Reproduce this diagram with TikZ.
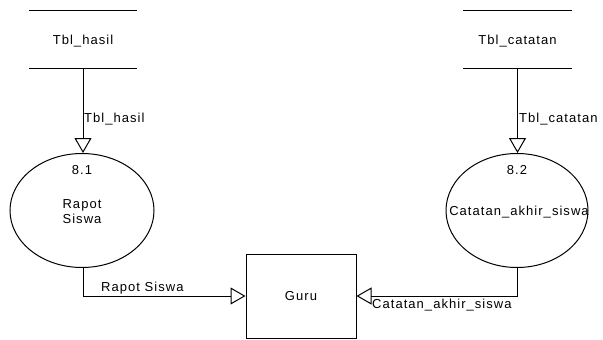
\documentclass[tikz,border=0pt]{standalone}
\usepackage{fontspec}
\setmainfont{Liberation Sans}[LetterSpace=8]
\usetikzlibrary{arrows.meta,shapes.geometric}
\begin{document}
\begin{tikzpicture}[x=1pt,y=-1pt,
  every node/.style={font=\fontsize{13}{15}\selectfont, inner sep=0pt},
  line/.style={line width=1pt},
  flow/.style={line width=1pt,-{Triangle[open,length=15pt,width=17pt]}},
  proc/.style={draw,line width=1pt,ellipse,minimum width=144pt,minimum height=114pt},
  store/.style={minimum width=108pt,minimum height=57pt},
  ent/.style={draw,line width=1pt,minimum width=110pt,minimum height=84pt}]
\useasboundingbox (0,0) rectangle (603,340);
% data stores
\node[store] (s1) at (83,39.5) {};
\node (s1t) at (83,41) {Tbl\_hasil};
\draw[line] (s1.north west) -- (s1.north east);
\draw[line] (s1.south west) -- (s1.south east);
\node[store] (s2) at (517.5,39.5) {};
\node (s2t) at (517.5,41) {Tbl\_catatan};
\draw[line] (s2.north west) -- (s2.north east);
\draw[line] (s2.south west) -- (s2.south east);
% processes
\node[proc] (p1) at (82,210.5) {};
\node (p1n) at (82,170) {8.1};
\node[align=center] (p1t) at (82,212) {Rapot\\Siswa};
\node[proc,minimum width=142pt] (p2) at (517,210.5) {};
\node (p2n) at (517,170) {8.2};
\node (p2t) at (519,212) {Catatan\_akhir\_siswa};
% entity
\node[ent] (g) at (301,296) {};
\node (gt) at (301,296) {Guru};
% flows
\draw[flow] (s1.south) -- (s1.south |- p1.north);
\draw[flow] (s2.south) -- (s2.south |- p2.north);
\draw[flow] (s1.south |- p1.south) |- (g.west);
\draw[flow] (s2.south |- p2.south) |- (g.east);
% labels
\node[anchor=west] (l1) at (84,119) {Tbl\_hasil};
\node[anchor=west] (l2) at (519,119) {Tbl\_catatan};
\node[anchor=west] (l3) at (101,288) {Rapot Siswa};
\node[anchor=west] (l4) at (372,305) {Catatan\_akhir\_siswa};
\end{tikzpicture}
\end{document}
